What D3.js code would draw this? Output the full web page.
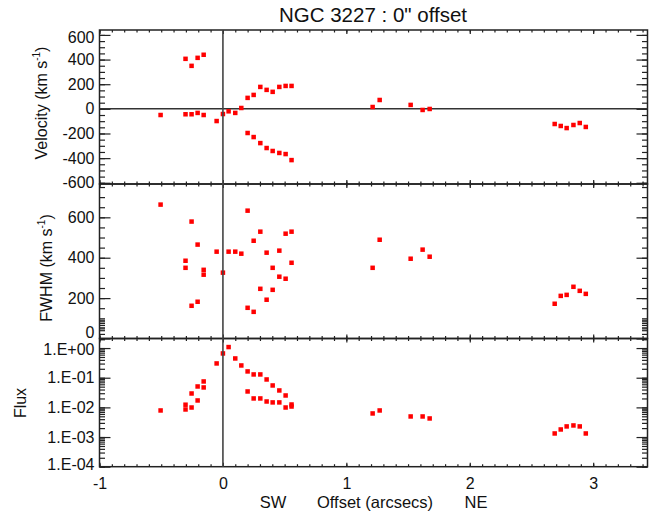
<!DOCTYPE html>
<html>
<head>
<meta charset="utf-8">
<script src="https://cdn.jsdelivr.net/npm/d3@7"></script>
<style>
  html, body { margin: 0; padding: 0; background: #fff; }
  svg { display: block; }
  text { font-family: "Liberation Sans", Arial, Helvetica, sans-serif; fill: #111; }
</style>
</head>
<body>
<svg id="chart" width="649" height="517"></svg>
<script>
// Offset along the slit (arcsec) and the measured quantities for each component
const velOffset = [-0.505, -0.303, -0.254, -0.205, -0.156, -0.303, -0.254, -0.205, -0.156, -0.051,
  0.0, 0.046, 0.1, 0.149, 0.2, 0.249, 0.303, 0.354, 0.403, 0.457, 0.508, 0.556,
  0.2, 0.249, 0.303, 0.354, 0.403, 0.457, 0.508, 0.556,
  1.213, 1.27, 1.521, 1.618, 1.675, 2.688, 2.737, 2.785, 2.84, 2.891, 2.94];
const velocity = [-50, 406, 349, 414, 439, -44, -44, -33, -50, -99,
  -42, -20, -33, 7, 89, 113, 178, 154, 138, 178, 186, 186,
  -196, -229, -278, -318, -342, -358, -367, -416,
  15, 72, 32, -9, -1, -123, -139, -156, -131, -115, -147];

const fwhmOffset = [-0.505, -0.303, -0.303, -0.254, -0.254, -0.205, -0.205, -0.156, -0.156, -0.051,
  0.0, 0.046, 0.1, 0.149, 0.2, 0.2, 0.249, 0.249, 0.303, 0.303, 0.354, 0.354,
  0.403, 0.403, 0.457, 0.457, 0.508, 0.508, 0.556, 0.556,
  1.213, 1.27, 1.521, 1.618, 1.675, 2.688, 2.737, 2.785, 2.84, 2.891, 2.94];
const fwhm = [663, 385, 350, 579, 162, 465, 182, 340, 316, 430,
  326, 430, 430, 420, 633, 152, 484, 132, 529, 246, 425, 192,
  350, 241, 435, 306, 519, 296, 529, 375,
  350, 489, 395, 440, 405, 172, 211, 216, 256, 236, 221];

const fluxOffset = [-0.505, -0.303, -0.303, -0.254, -0.254, -0.205, -0.205, -0.156, -0.156, -0.051,
  0.0, 0.046, 0.1, 0.149, 0.2, 0.2, 0.249, 0.249, 0.303, 0.303, 0.354, 0.354,
  0.403, 0.403, 0.457, 0.457, 0.508, 0.508, 0.556, 0.556,
  1.213, 1.27, 1.521, 1.618, 1.675, 2.688, 2.737, 2.785, 2.84, 2.891, 2.94];
const flux = [0.00787, 0.0123, 0.0085, 0.0294, 0.0099, 0.0507, 0.0171, 0.0748, 0.047, 0.303,
  0.658, 1.08, 0.446, 0.259, 0.163, 0.0344, 0.129, 0.02, 0.129, 0.02, 0.0873, 0.0158,
  0.0548, 0.0147, 0.0372, 0.0147, 0.0252, 0.0099, 0.0125, 0.0107,
  0.00624, 0.00787, 0.00494, 0.00494, 0.00423, 0.00132, 0.0018, 0.00228, 0.00246, 0.00228, 0.00132];

// Axis ranges and tick labels
const xRange = [-1, 3.44];
const xTicks = [-1, 0, 1, 2, 3];
const velRange = [-610, 640];
const velTicks = [-600, -400, -200, 0, 200, 400, 600];
const fwhmRange = [0, 765];
const fwhmTicks = [0, 200, 400, 600];
const fluxRange = [1e-4, 2.1];
const fluxTicks = [1e-4, 1e-3, 1e-2, 1e-1, 1];

const title = "NGC 3227 : 0\" offset";

const svg = d3.select("#chart");
const left = 99.5, right = 647.5;
const frameColor = "#222";

const x = d3.scaleLinear().domain(xRange).range([left, right]);
const plain = v => String(v);   // hyphen-minus, as in the printed labels

const panels = [
  { top: 30, bottom: 184, scale: d3.scaleLinear().domain(velRange),
    major: velTicks, minor: d3.range(-600, 641, 50), fmt: plain,
    nudge: { 600: 2 }, xs: velOffset, ys: velocity },
  { top: 184, bottom: 338.5, scale: d3.scaleLinear().domain(fwhmRange),
    major: fwhmTicks, minor: d3.range(0, 766, 50), fmt: plain,
    nudge: { 0: -6 }, xs: fwhmOffset, ys: fwhm },
  { top: 338.5, bottom: 466.7, scale: d3.scaleLog().domain(fluxRange),
    major: fluxTicks,
    minor: d3.range(-4, 1).flatMap(e => d3.range(1, 10).map(m => m * Math.pow(10, e))).concat([2]),
    fmt: v => { const e = Math.round(Math.log10(v)); return "1.E" + (e < 0 ? "-" : "+") + String(Math.abs(e)).padStart(2, "0"); },
    nudge: { 1: 1, 0.0001: -2 }, xs: fluxOffset, ys: flux }
];

const xMinor = d3.range(-10, 35).map(i => i / 10);

panels.forEach((p, i) => {
  p.scale.range([p.bottom, p.top]);
  const g = svg.append("g");

  // left axis: major ticks with labels, minor ticks
  const yl = g.append("g").attr("transform", `translate(${left},0)`)
    .call(d3.axisLeft(p.scale).tickValues(p.major).tickFormat(p.fmt).tickSizeInner(-11).tickSizeOuter(0).tickPadding(5));
  yl.selectAll(".tick text").attr("y", d => p.nudge[d] || 0);
  g.append("g").attr("transform", `translate(${left},0)`)
    .call(d3.axisLeft(p.scale).tickValues(p.minor).tickFormat("").tickSizeInner(-5.5).tickSizeOuter(0));
  // right axis
  g.append("g").attr("transform", `translate(${right},0)`)
    .call(d3.axisRight(p.scale).tickValues(p.major).tickFormat("").tickSizeInner(-11).tickSizeOuter(0));
  g.append("g").attr("transform", `translate(${right},0)`)
    .call(d3.axisRight(p.scale).tickValues(p.minor).tickFormat("").tickSizeInner(-5.5).tickSizeOuter(0));
  // top and bottom x ticks
  g.append("g").attr("transform", `translate(0,${p.top})`)
    .call(d3.axisTop(x).tickValues(xTicks).tickFormat("").tickSizeInner(-4).tickSizeOuter(0));
  g.append("g").attr("transform", `translate(0,${p.top})`)
    .call(d3.axisTop(x).tickValues(xMinor).tickFormat("").tickSizeInner(-2.5).tickSizeOuter(0));
  g.append("g").attr("transform", `translate(0,${p.bottom})`)
    .call(d3.axisBottom(x).tickValues(xTicks).tickFormat(i === 2 ? plain : "").tickSizeInner(-4).tickSizeOuter(0).tickPadding(11));
  g.append("g").attr("transform", `translate(0,${p.bottom})`)
    .call(d3.axisBottom(x).tickValues(xMinor).tickFormat("").tickSizeInner(-2.5).tickSizeOuter(0));

  g.selectAll(".domain").remove();
  g.selectAll(".tick line").attr("stroke", frameColor).attr("stroke-width", 1.2);
  g.selectAll(".tick text").attr("font-size", 16).attr("font-family", null).attr("fill", "#111");

  // frame
  g.append("rect").attr("x", left).attr("y", p.top)
    .attr("width", right - left).attr("height", p.bottom - p.top)
    .attr("fill", "none").attr("stroke", frameColor).attr("stroke-width", 1.5);

  // zero-velocity reference
  if (i === 0) {
    g.append("line").attr("x1", left).attr("x2", right)
      .attr("y1", p.scale(0)).attr("y2", p.scale(0))
      .attr("stroke", "#333").attr("stroke-width", 1.5);
  }

  // data points
  g.append("g").selectAll("rect").data(p.xs.map((v, k) => [v, p.ys[k]]))
    .join("rect")
    .attr("x", d => x(d[0]) - 2.25).attr("y", d => p.scale(d[1]) - 2.25)
    .attr("width", 4.5).attr("height", 4.5).attr("fill", "#f00");
});

// nucleus position across all panels
svg.append("line").attr("x1", x(0)).attr("x2", x(0))
  .attr("y1", panels[0].top).attr("y2", panels[2].bottom)
  .attr("stroke", "#444").attr("stroke-width", 1.6);

// title and axis titles
svg.append("text").attr("x", 373).attr("y", 22).attr("text-anchor", "middle")
  .attr("font-size", 20.5).text(title);

svg.append("text").attr("x", 273).attr("y", 508).attr("text-anchor", "middle").attr("font-size", 16.5).text("SW");
svg.append("text").attr("x", 375).attr("y", 508).attr("text-anchor", "middle").attr("font-size", 16.5).text("Offset (arcsecs)");
svg.append("text").attr("x", 476).attr("y", 508).attr("text-anchor", "middle").attr("font-size", 16.5).text("NE");

function yTitle(label, cx, cy) {
  const t = svg.append("text").attr("transform", `translate(${cx},${cy}) rotate(-90)`)
    .attr("text-anchor", "middle").attr("font-size", 16);
  t.append("tspan").text(label + " (km s");
  t.append("tspan").attr("font-size", 10).attr("dy", -7).text("-1");
  t.append("tspan").attr("dy", 7).text(")");
  return t;
}
yTitle("Velocity", 47, 103);
yTitle("FWHM", 52, 268);
svg.append("text").attr("transform", "translate(26,403) rotate(-90)")
  .attr("text-anchor", "middle").attr("font-size", 16).text("Flux");
</script>
</body>
</html>
